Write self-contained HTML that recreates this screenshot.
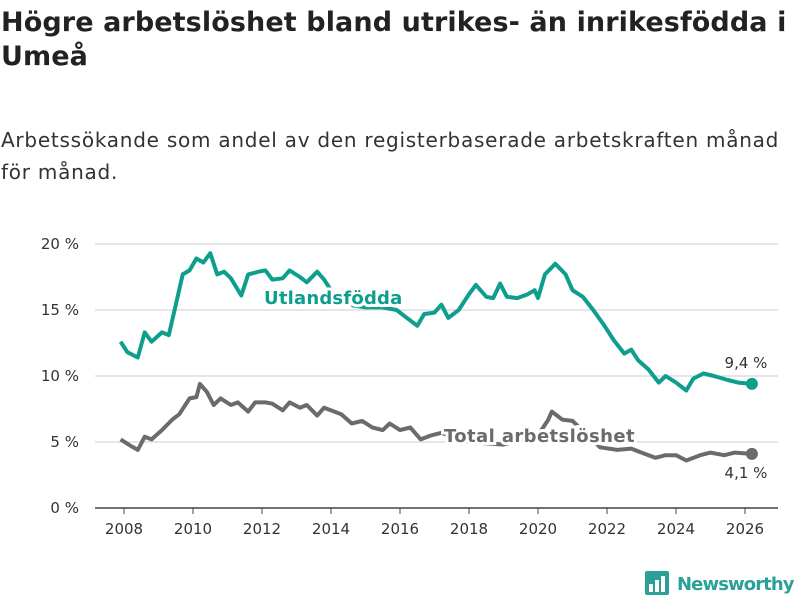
<!DOCTYPE html>
<html><head><meta charset="utf-8"><style>
body{margin:0;background:#fff;font-family:"DejaVu Sans",sans-serif;}
#wrap{position:relative;width:800px;height:600px;overflow:hidden;}
h1{position:absolute;left:1px;top:6px;margin:0;font-size:27px;line-height:34px;font-weight:bold;color:#222;white-space:nowrap;letter-spacing:0.1px}
#sub{position:absolute;left:1px;top:124px;font-size:20px;line-height:32px;color:#333;white-space:nowrap;letter-spacing:0.75px}
</style></head><body>
<div id="wrap">
<h1>Högre arbetslöshet bland utrikes- än inrikesfödda i<br>Umeå</h1>
<div id="sub">Arbetssökande som andel av den registerbaserade arbetskraften månad<br>för månad.</div>
<svg id="chart" width="800" height="600" style="position:absolute;left:0;top:0"></svg>
</div>
<script>
const yTicks=[0,5,10,15,20];
const yTickLabels=["0 %","5 %","10 %","15 %","20 %"];
const xTicks=[2008,2010,2012,2014,2016,2018,2020,2022,2024,2026];
const utlYears=[2007.9,2008.1,2008.4,2008.6,2008.8,2009.1,2009.3,2009.5,2009.7,2009.9,2010.1,2010.3,2010.5,2010.7,2010.9,2011.1,2011.4,2011.6,2011.9,2012.1,2012.3,2012.6,2012.8,2013.1,2013.3,2013.6,2013.8,2014.1,2014.5,2015,2015.5,2015.9,2016.2,2016.5,2016.7,2017,2017.2,2017.4,2017.7,2018,2018.2,2018.5,2018.7,2018.9,2019.1,2019.4,2019.7,2019.9,2020,2020.2,2020.5,2020.8,2021,2021.3,2021.6,2021.9,2022.2,2022.5,2022.7,2022.9,2023.2,2023.5,2023.7,2024,2024.3,2024.5,2024.8,2025.1,2025.5,2025.8,2026.2];
const utlValues=[12.6,11.8,11.4,13.3,12.6,13.3,13.1,15.4,17.7,18.0,18.9,18.6,19.3,17.7,17.9,17.4,16.1,17.7,17.9,18.0,17.3,17.4,18.0,17.5,17.1,17.9,17.3,16.1,15.4,15.2,15.2,15.0,14.4,13.8,14.7,14.8,15.4,14.4,15.0,16.2,16.9,16.0,15.9,17.0,16.0,15.9,16.2,16.5,15.9,17.7,18.5,17.7,16.5,16.0,15.0,13.9,12.7,11.7,12.0,11.2,10.5,9.5,10.0,9.5,8.9,9.8,10.2,10.0,9.7,9.5,9.4];
const totYears=[2007.9,2008.2,2008.4,2008.6,2008.8,2009.1,2009.4,2009.6,2009.9,2010.1,2010.2,2010.4,2010.6,2010.8,2011.1,2011.3,2011.6,2011.8,2012.1,2012.3,2012.6,2012.8,2013.1,2013.3,2013.6,2013.8,2014.1,2014.3,2014.6,2014.9,2015.2,2015.5,2015.7,2016,2016.3,2016.6,2016.9,2017.2,2017.5,2018,2019,2020,2020.3,2020.4,2020.7,2021,2021.8,2022.3,2022.7,2023,2023.4,2023.7,2024,2024.3,2024.7,2025,2025.4,2025.7,2026.2];
const totValues=[5.2,4.7,4.4,5.4,5.2,5.9,6.7,7.1,8.3,8.4,9.4,8.8,7.8,8.3,7.8,8.0,7.3,8.0,8.0,7.9,7.4,8.0,7.6,7.8,7.0,7.6,7.3,7.1,6.4,6.6,6.1,5.9,6.4,5.9,6.1,5.2,5.5,5.7,5.4,5.0,4.8,5.5,6.7,7.3,6.7,6.6,4.6,4.4,4.5,4.2,3.8,4.0,4.0,3.6,4.0,4.2,4.0,4.2,4.1];
const svg=document.getElementById('chart');const NS='http://www.w3.org/2000/svg';
const X=y=>124+(y-2008)*34.5, Y=v=>508-v*13.2;
function mk(t,a,p){const e=document.createElementNS(NS,t);for(const k in a)e.setAttribute(k,a[k]);(p||svg).appendChild(e);return e;}
const FF='DejaVu Sans, sans-serif';
yTicks.forEach((v,i)=>{
 const l=mk('line',{x1:95,x2:778,y1:Y(v),y2:Y(v),stroke:i==0?'#444':'#ddd','stroke-width':1.5});
 
 
 const t=mk('text',{x:79,y:Y(v)+5,'text-anchor':'end','font-size':15,fill:'#333','font-family':FF});t.textContent=yTickLabels[i];
 
 
});
xTicks.forEach(v=>{
 mk('line',{x1:X(v),x2:X(v),y1:508,y2:514,stroke:'#444'});
 const t=mk('text',{x:X(v),y:534,'text-anchor':'middle','font-size':15,fill:'#333','font-family':FF});t.textContent=v;
 
 
});
function line(xs,vs,c,name){
 const p=mk('path',{d:xs.map((x,i)=>(i?'L':'M')+X(x).toFixed(1)+','+Y(vs[i]).toFixed(1)).join(''),fill:'none',stroke:c,'stroke-width':4,'stroke-linejoin':'round'});
 
 
 const n=xs.length-1;
 const d=mk('circle',{cx:X(xs[n]),cy:Y(vs[n]),r:6,fill:c});
 
 
}
line(utlYears,utlValues,'#0e9e8e','utlandsfodda-line');
line(totYears,totValues,'#6b6b6b','total-line');
function lab(x,y,txt,c,name,anchor,bold,size,ls){
 const t=mk('text',{x:x,y:y,'font-size':size,'font-weight':bold?'bold':'normal',fill:c,'text-anchor':anchor,'font-family':FF,stroke:'#fff','stroke-width':bold?6:0,'paint-order':'stroke','letter-spacing':ls});t.textContent=txt;
 
 
}
lab(264,304,'Utlandsfödda','#0e9e8e','utlandsfodda-label','start',true,18,0.2);
lab(444,442,'Total arbetslöshet','#6b6b6b','total-label','start',true,18,0.4);
lab(746,368,'9,4 %','#333','utlandsfodda-end-value','middle',false,15,0);
lab(746,478,'4,1 %','#333','total-end-value','middle',false,15,0);
const g=mk('g',{});
mk('rect',{x:645,y:571,width:24,height:24,rx:2,fill:'#2aa198'},g);
[[649,584,4,8],[655,580,4,12],[661,576,4,16]].forEach(r=>mk('rect',{x:r[0],y:r[1],width:r[2],height:r[3],fill:'#fff'},g));
const lt=mk('text',{x:677,y:590,'font-size':18,'font-weight':'bold',fill:'#2aa198','font-family':FF,'letter-spacing':-0.9},g);lt.textContent='Newsworthy';
</script>
</body></html>
